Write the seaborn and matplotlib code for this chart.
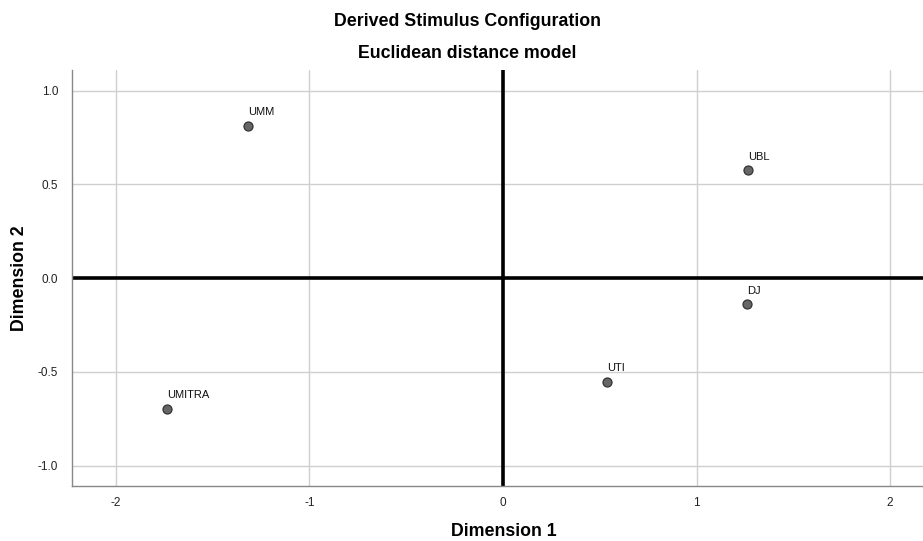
import matplotlib
matplotlib.use("Agg")
import matplotlib.pyplot as plt
import seaborn as sns
import pandas as pd

labels = ["UMM", "UBL", "DJ", "UTI", "UMITRA"]
dim1 = [-1.319, 1.265, 1.259, 0.536, -1.736]
dim2 = [0.813, 0.577, -0.139, -0.552, -0.696]
xticks = [-2, -1, 0, 1, 2]
yticks = [-1.0, -0.5, 0.0, 0.5, 1.0]

sns.set_theme(style="white")
plt.rcParams["font.family"] = ["Liberation Sans", "DejaVu Sans"]

df = pd.DataFrame({"Dimension 1": dim1, "Dimension 2": dim2, "label": labels})

W, H = 923, 541
fig = plt.figure(figsize=(W / 100, H / 100), dpi=100)
ax = fig.add_axes([72 / W, 55 / H, 1 - 72 / W, (486 - 70) / H])

ax.set_xlim(-2.227, 2.17)
ax.set_ylim(-1.108, 1.11)
ax.set_xticks(xticks)
ax.set_yticks(yticks)
ax.set_xticklabels([f"{t:d}" for t in xticks])
ax.set_yticklabels([f"{t:.1f}" for t in yticks])
ax.grid(True, color="#cfcfcf", linewidth=1.0)
ax.set_axisbelow(True)
ax.axhline(0, color="black", linewidth=2.6, zorder=2)
ax.axvline(0, color="black", linewidth=2.6, zorder=2)

sns.scatterplot(data=df, x="Dimension 1", y="Dimension 2", ax=ax,
                color="#666666", edgecolor="#333333", linewidth=0.9, s=42, zorder=3)

for lab, x, y in zip(labels, dim1, dim2):
    ax.annotate(lab, (x, y), xytext=(0, 6), textcoords="offset points",
                ha="left", va="bottom", fontsize=8, color="#111111")

for s in ["top", "right"]:
    ax.spines[s].set_visible(False)
for s in ["left", "bottom"]:
    ax.spines[s].set_color("#888888")
    ax.spines[s].set_linewidth(1.0)
ax.tick_params(axis="both", length=0, labelsize=8.5, colors="#222222")
ax.tick_params(axis="x", pad=8)
ax.tick_params(axis="y", pad=10)

ax.set_xlabel("Dimension 1", fontsize=12.8, fontweight="bold", color="black", va="center")
ax.xaxis.set_label_coords((504 - 72) / (W - 72), (486 - 532) / 416)
ax.set_ylabel("Dimension 2", fontsize=12.8, fontweight="bold", color="black", va="center")
ax.yaxis.set_label_coords((20 - 72) / (W - 72), 0.5)

fig.text(468 / W, 1 - 22 / H, "Derived Stimulus Configuration",
         ha="center", va="center", fontsize=12.8, fontweight="bold", color="black")
fig.text(467 / W, 1 - 54 / H, "Euclidean distance model",
         ha="center", va="center", fontsize=12.8, fontweight="bold", color="black")

fig.savefig("out.png", dpi=100)
